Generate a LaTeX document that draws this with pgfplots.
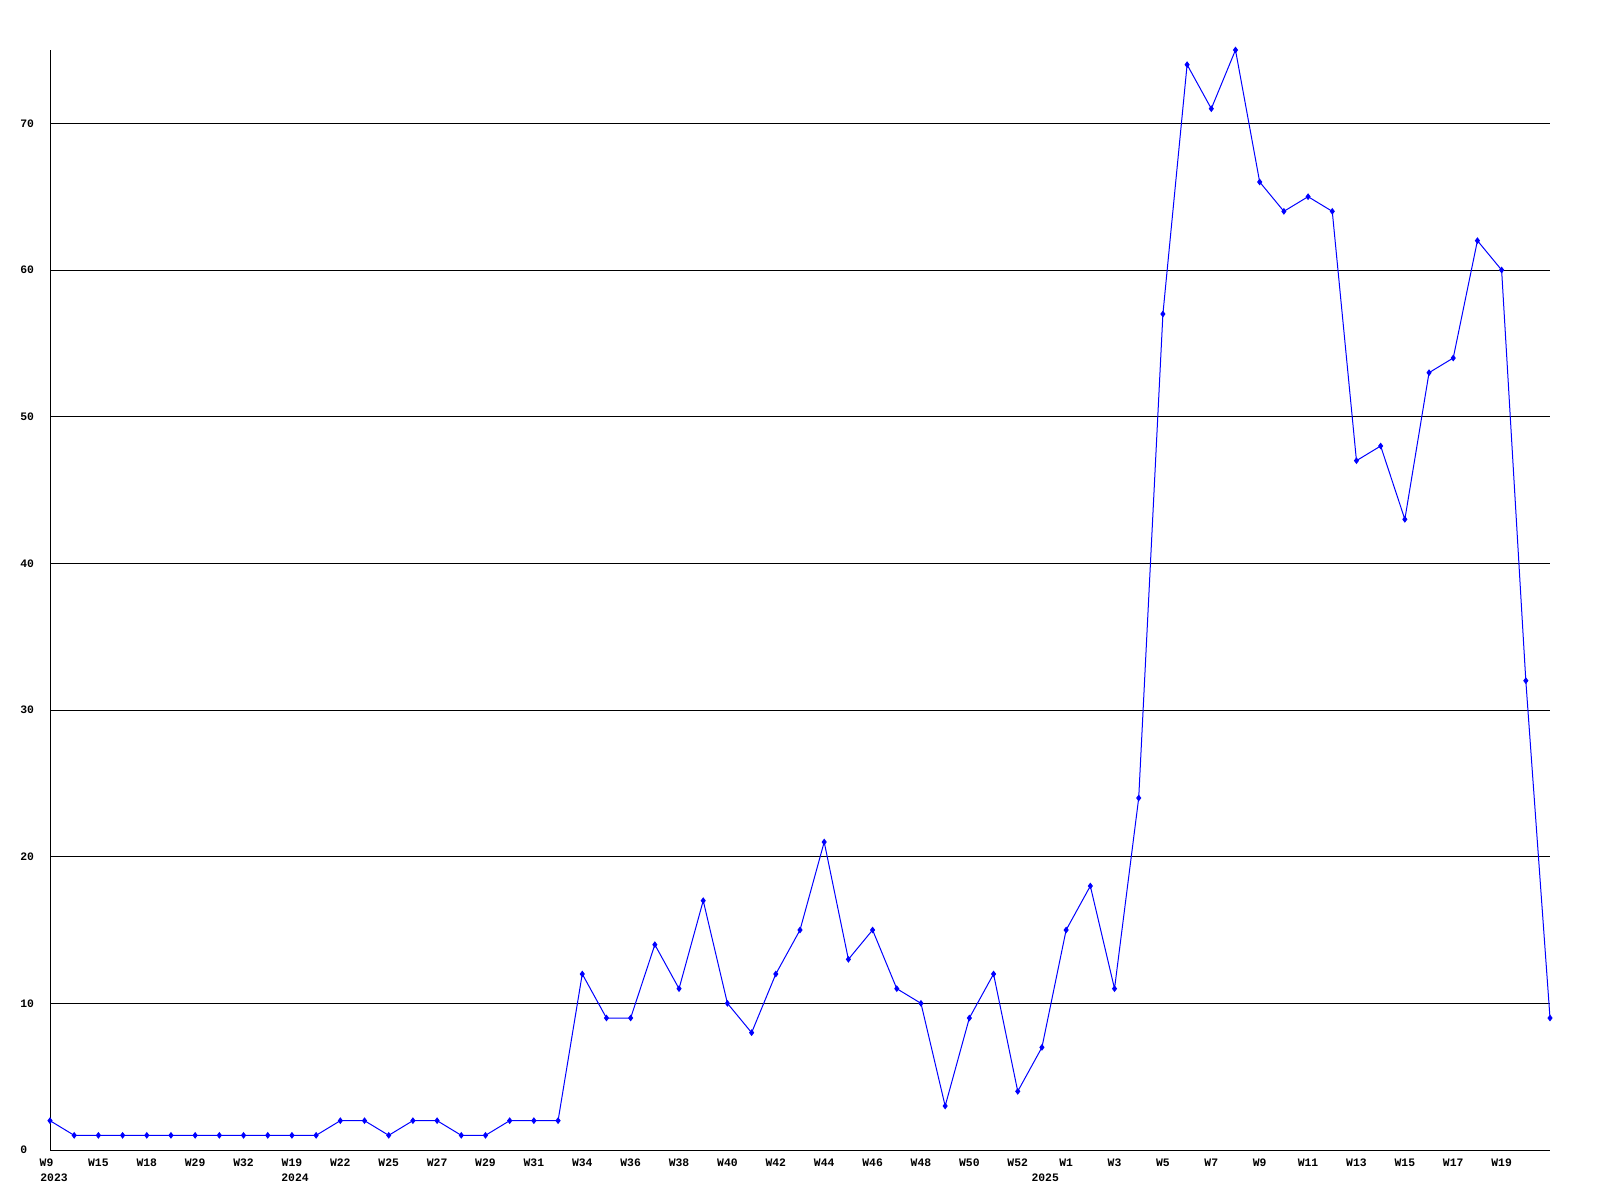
\documentclass[border=0pt]{standalone}
\usepackage{pgfplots}
\pgfplotsset{compat=1.18}
\usepackage{fontspec}
\setmainfont{Liberation Mono}
\begin{document}
\begin{tikzpicture}[x=1pt,y=1pt]
\path[use as bounding box] (0,0) rectangle (800,600);
\begin{axis}[
 at={(25pt,25pt)}, anchor=south west, scale only axis, width=750pt, height=550pt,
 xmin=0, xmax=62, ymin=0, ymax=75,
 axis lines=left, axis line style={-, line width=0.5pt, black},
 ytick={0,10,...,70}, ymajorgrids, grid style={black, line width=0.5pt},
 major tick length=0pt,
 xtick={0,2,...,60},
 xticklabels={\hspace*{-3.5pt}W9,W15,W18,W29,W32,W19,W22,W25,W27,W29,W31,W34,W36,W38,W40,W42,W44,W46,W48,W50,W52,W1,W3,W5,W7,W9,W11,W13,W15,W17,W19},
 ticklabel style={font=\fontsize{5.7}{6.5}\selectfont\bfseries, inner sep=0pt},
 xticklabel style={anchor=base, yshift=-8pt},
 yticklabel style={anchor=west, xshift=-15pt},
 /pgf/number format/assume math mode=true,
 clip=false,
]
\addplot[blue, line width=0.5pt, mark=diamond*, mark size=1.3pt, mark options={fill=blue}] coordinates {
(0,2)(1,1)(2,1)(3,1)(4,1)(5,1)(6,1)(7,1)(8,1)(9,1)(10,1)(11,1)(12,2)(13,2)(14,1)(15,2)(16,2)(17,1)(18,1)(19,2)(20,2)(21,2)
(22,12)(23,9)(24,9)(25,14)(26,11)(27,17)(28,10)(29,8)(30,12)(31,15)(32,21)(33,13)(34,15)(35,11)(36,10)(37,3)(38,9)(39,12)(40,4)(41,7)
(42,15)(43,18)(44,11)(45,24)(46,57)(47,74)(48,71)(49,75)(50,66)(51,64)(52,65)(53,64)(54,47)(55,48)(56,43)(57,53)(58,54)(59,62)(60,60)(61,32)(62,9)
};
\node[anchor=base west, inner sep=0pt, font=\fontsize{5.7}{6.5}\selectfont\bfseries] at ([xshift=-5pt,yshift=-15.5pt]axis cs:0,0) {2023};
\node[anchor=base west, inner sep=0pt, font=\fontsize{5.7}{6.5}\selectfont\bfseries] at ([xshift=-5.5pt,yshift=-15.5pt]axis cs:10,0) {2024};
\node[anchor=base west, inner sep=0pt, font=\fontsize{5.7}{6.5}\selectfont\bfseries] at ([xshift=-17.5pt,yshift=-15.5pt]axis cs:42,0) {2025};
\end{axis}
\end{tikzpicture}
\end{document}
